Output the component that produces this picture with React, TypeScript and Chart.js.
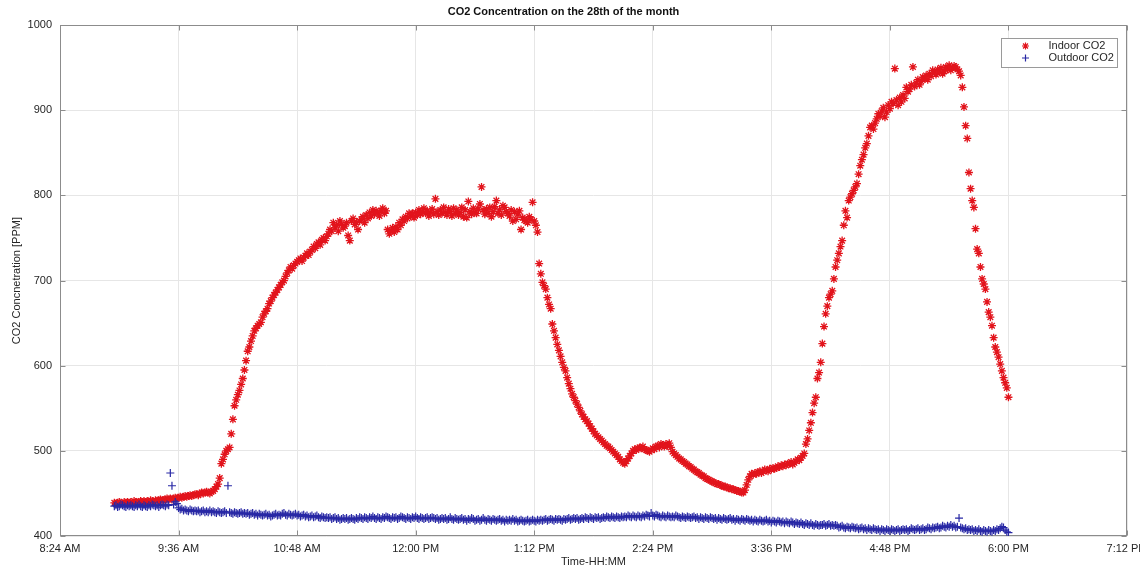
import { useEffect, useRef } from "react";
import { Chart, registerables } from "chart.js";

Chart.register(...registerables);

// Logger readings, one per minute, starting at 8:57 AM (minutes after midnight)
const FIRST_MINUTE = 537;

// Indoor CO2 [ppm]
const INDOOR_CO2 = [
  439, 438, 439, 440, 439, 438, 440, 439, 440, 439,
  440, 439, 441, 440, 439, 440, 441, 440, 441, 440,
  441, 440, 442, 441, 440, 442, 441, 442, 443, 442,
  442, 443, 444, 443, 444, 443, 444, 445, 444, 445,
  446, 445, 446, 447, 446, 447, 448, 447, 448, 449,
  449, 448, 450, 451, 450, 451, 452, 451, 450, 452,
  453, 455, 458, 461, 468, 485, 490, 496, 500, 502,
  504, 520, 537, 553, 560, 566, 571, 578, 585, 595,
  606, 617, 622, 629, 635, 641, 644, 647, 649, 651,
  657, 661, 664, 667, 673, 676, 680, 683, 686, 689,
  692, 695, 698, 700, 705, 709, 712, 716, 714, 718,
  720, 722, 724, 726, 723, 727, 729, 732, 730, 734,
  736, 740, 738, 743, 745, 742, 748, 750, 747, 752,
  755, 760, 758, 768, 762, 765, 758, 770, 766, 762,
  764, 768, 753, 747, 770, 773, 766, 768, 760, 770,
  772, 775, 768, 777, 773, 780, 776, 783, 778, 782,
  780, 776, 782, 785, 779, 782, 760, 755, 758, 762,
  757, 763, 760, 768, 765, 772, 770, 775, 773, 779,
  776, 779, 774, 780, 777, 783, 778, 781, 785, 779,
  782, 776, 780, 784, 778, 796, 781, 777, 783, 779,
  786, 780, 777, 784, 781, 776, 785, 779, 783, 777,
  780, 786, 775, 783, 774, 793, 781, 778, 785, 780,
  779, 784, 790, 810, 783, 778, 784, 779, 786, 775,
  781, 787, 794, 779, 783, 777, 788, 786, 781, 779,
  776, 783, 770, 781, 772, 778, 782, 760, 774, 771,
  770, 768, 775, 772, 792, 770, 765, 757, 720, 708,
  698, 694, 690, 680, 672, 667, 649, 641, 633, 625,
  618, 611, 604, 598, 594, 586, 579, 573, 567, 563,
  559, 555, 551, 547, 543, 540, 537, 535, 532, 529,
  526, 523, 520, 518, 516, 514, 512, 510, 508, 506,
  505, 503, 501, 499, 497, 495, 493, 490, 488, 486,
  485, 488, 491, 494, 497, 500, 502, 501, 503, 504,
  503, 505, 502, 501, 500, 499, 501, 503, 502, 505,
  506, 504, 508, 507, 505, 508, 506, 509, 504, 499,
  497, 495, 493, 491, 490, 488, 487, 485, 484, 482,
  481, 479, 478, 476, 475, 474, 472, 471, 470, 468,
  467, 466, 465, 464, 463, 462, 461, 461, 460, 459,
  458, 458, 457, 456, 456, 455, 455, 454, 453, 453,
  452, 451, 451, 454, 460, 466, 470, 473, 472, 474,
  473, 475, 476, 474, 476, 478, 477, 476, 479, 478,
  480, 479, 480, 482, 481, 483, 482, 484, 483, 485,
  485, 487, 484, 486, 488, 490, 489, 492, 494, 497,
  508, 514, 524, 533, 545, 556, 563, 585, 592, 604,
  626, 646, 661, 670, 680, 684, 688, 702, 716, 724,
  732, 740, 747, 765, 782, 774, 794, 798, 802, 806,
  810, 814, 825, 835, 842, 848, 856, 861, 870, 880,
  882, 878, 885, 890, 896, 893, 899, 903, 892, 898,
  906, 902, 910, 908, 949, 912, 906, 915, 910, 918,
  914, 927, 922, 925, 930, 951, 928, 932, 936, 930,
  934, 939, 937, 941, 936, 943, 940, 947, 944, 942,
  948, 945, 950, 943, 946, 951, 948, 953, 947, 950,
  952, 951, 948, 946, 941, 927, 904, 882, 867, 827,
  808, 794, 786, 761, 737, 732, 716, 702, 696, 690,
  675, 663, 657, 647, 633, 622, 616, 610, 602, 594,
  586, 580, 574, 563,
];

// Outdoor CO2 [ppm]
const OUTDOOR_CO2 = [
  435, 436, 434, 435, 437, 436, 435, 434, 436, 435,
  436, 435, 434, 436, 435, 437, 435, 434, 436, 435,
  434, 436, 435, 437, 436, 435, 436, 434, 436, 437,
  436, 435, 437, 436, 474, 459, 437, 440, 438, 433,
  431, 432, 430, 431, 430, 429, 431, 430, 429, 430,
  429, 430, 428, 429, 430, 428, 429, 428, 430, 428,
  429, 428, 427, 429, 428, 427, 428, 429, 427, 459,
  428, 427, 426, 428, 427, 426, 427, 428, 426, 427,
  426, 427, 425, 426, 427, 425, 426, 424, 426, 425,
  424, 425, 426, 424, 425, 423, 424, 425, 426, 424,
  425, 424, 426, 427, 425, 424, 426, 425, 424, 425,
  426, 424, 425, 423, 424, 425, 423, 424, 422, 423,
  424, 422, 423, 424, 422, 421, 423, 422, 421, 422,
  421, 422, 420, 421, 422, 420, 421, 419, 420, 421,
  420, 421, 419, 420, 421, 420, 419, 421, 420, 422,
  421, 420, 422, 421, 420, 422, 421, 423, 421, 420,
  422, 421, 420, 422, 421, 423, 422, 421, 420, 422,
  421, 422, 420, 421, 423, 422, 421, 420, 422, 421,
  420, 422, 421, 423, 421, 420, 422, 421, 420, 421,
  422, 420, 421, 422, 421, 420, 421, 419, 420, 421,
  420, 421, 419, 420, 422, 420, 419, 421, 420, 419,
  420, 421, 419, 420, 418, 420, 419, 421, 420, 418,
  419, 420, 418, 419, 421, 419, 418, 420, 419, 418,
  420, 419, 418, 419, 420, 418, 419, 417, 419, 418,
  419, 418, 420, 418, 419, 417, 418, 419, 418, 417,
  418, 419, 417, 418, 419, 418, 417, 419, 418, 419,
  418, 419, 420, 418, 419, 420, 419, 418, 420, 419,
  420, 419, 418, 420, 419, 420, 421, 419, 420, 421,
  420, 421, 419, 420, 421, 420, 422, 421, 420, 422,
  421, 420, 422, 421, 422, 420, 421, 422, 421, 423,
  422, 421, 423, 422, 421, 423, 422, 421, 423, 422,
  423, 422, 424, 423, 422, 424, 423, 422, 424, 423,
  422, 424, 423, 425, 424, 423, 427, 424, 423, 425,
  424, 423, 422, 424, 423, 422, 424, 423, 422, 423,
  422, 424, 423, 422, 421, 423, 422, 421, 423, 422,
  421, 422, 423, 421, 422, 420, 422, 421, 420, 422,
  421, 420, 422, 421, 420, 421, 419, 421, 420, 419,
  421, 420, 419, 420, 421, 419, 420, 418, 420, 419,
  418, 420, 419, 418, 420, 419, 418, 419, 417, 419,
  418, 417, 419, 418, 417, 418, 419, 417, 418, 416,
  418, 417, 416, 418, 417, 416, 417, 415, 417, 416,
  415, 417, 416, 414, 416, 415, 414, 416, 414, 413,
  415, 414, 413, 415, 413, 412, 414, 413, 412, 413,
  413, 414, 412, 413, 414, 412, 413, 412, 413, 412,
  410, 411, 412, 410, 409, 411, 410, 409, 411, 410,
  409, 410, 408, 409, 410, 408, 409, 407, 409, 408,
  407, 409, 408, 407, 408, 406, 408, 407, 406, 408,
  407, 406, 408, 407, 406, 407, 408, 406, 407, 408,
  407, 408, 406, 407, 409, 408, 407, 408, 409, 407,
  408, 409, 407, 408, 410, 409, 408, 410, 409, 410,
  411, 409, 410, 412, 411, 410, 412, 411, 413, 411,
  412, 410, 411, 421, 410, 409, 408, 409, 407, 408,
  407, 408, 406, 407, 406, 408, 406, 405, 407, 406,
  405, 407, 406, 405, 407, 406, 408, 407, 409, 411,
  410, 407, 405, 404,
];

// Time axis: 8:24 AM to 7:12 PM in minutes after midnight, 72-minute steps
const X_MIN = 504;
const X_MAX = 1152;
const X_STEP = 72;
const X_TICK_LABELS = [
  "8:24 AM", "9:36 AM", "10:48 AM", "12:00 PM", "1:12 PM",
  "2:24 PM", "3:36 PM", "4:48 PM", "6:00 PM", "7:12 PM",
];
const Y_MIN = 400;
const Y_MAX = 1000;
const Y_STEP = 100;
const Y_TICK_LABELS = ["400", "500", "600", "700", "800", "900", "1000"];

const FONT = "'Liberation Sans', Arial, Helvetica, sans-serif";
const TEXT = "#262626";
const INDOOR_COLOR = "rgb(226, 20, 28)";
const OUTDOOR_COLOR = "rgb(40, 40, 165)";

function drawMarker(ctx: CanvasRenderingContext2D, style: string, x: number, y: number, r: number) {
  ctx.beginPath();
  ctx.moveTo(x - r, y);
  ctx.lineTo(x + r, y);
  ctx.moveTo(x, y - r);
  ctx.lineTo(x, y + r);
  if (style === "star") {
    const d = r * Math.SQRT1_2;
    ctx.moveTo(x - d, y - d);
    ctx.lineTo(x + d, y + d);
    ctx.moveTo(x - d, y + d);
    ctx.lineTo(x + d, y - d);
  }
  ctx.stroke();
}

// Box around the axes with short inward tick marks
const axesFrame = {
  id: "axesFrame",
  beforeDatasetsDraw(chart: any) {
    const { ctx, chartArea, scales } = chart;
    const l = Math.round(chartArea.left) + 0.5;
    const r = Math.round(chartArea.right) - 0.5;
    const t = Math.round(chartArea.top) + 0.5;
    const b = Math.round(chartArea.bottom) - 0.5;
    ctx.save();
    ctx.strokeStyle = "#8c8c8c";
    ctx.lineWidth = 1;
    ctx.strokeRect(l, t, r - l, b - t);
    ctx.beginPath();
    scales.x.ticks.forEach((tk: any) => {
      const px = Math.round(scales.x.getPixelForValue(tk.value)) + 0.5;
      ctx.moveTo(px, b);
      ctx.lineTo(px, b - 5);
      ctx.moveTo(px, t);
      ctx.lineTo(px, t + 5);
    });
    scales.y.ticks.forEach((tk: any) => {
      const py = Math.round(scales.y.getPixelForValue(tk.value)) + 0.5;
      ctx.moveTo(l, py);
      ctx.lineTo(l + 5, py);
      ctx.moveTo(r, py);
      ctx.lineTo(r - 5, py);
    });
    ctx.stroke();
    ctx.restore();
  },
};

// Boxed legend in the upper right corner of the axes
const cornerLegend = {
  id: "cornerLegend",
  afterDraw(chart: any) {
    const { ctx, chartArea } = chart;
    const w = 116;
    const h = 29;
    const x0 = Math.round(chartArea.right - 10 - w) + 0.5;
    const y0 = Math.round(chartArea.top + 13) + 0.5;
    ctx.save();
    ctx.fillStyle = "#ffffff";
    ctx.fillRect(x0, y0, w, h);
    ctx.strokeStyle = "#9a9a9a";
    ctx.lineWidth = 1;
    ctx.strokeRect(x0, y0, w, h);
    chart.data.datasets.forEach((ds: any, i: number) => {
      const cy = y0 + 7.5 + i * 12;
      ctx.strokeStyle = ds.borderColor;
      ctx.lineWidth = 1.2;
      drawMarker(ctx, ds.pointStyle, x0 + 24, cy, 3.5);
      ctx.fillStyle = TEXT;
      ctx.font = `11px ${FONT}`;
      ctx.textAlign = "left";
      ctx.textBaseline = "middle";
      ctx.fillText(ds.label, x0 + 47, cy);
    });
    ctx.restore();
  },
};

export default function App() {
  const canvasRef = useRef<HTMLCanvasElement | null>(null);

  useEffect(() => {
    const canvas = canvasRef.current;
    if (!canvas) return;

    const indoorPoints = INDOOR_CO2.map((v, i) => ({ x: FIRST_MINUTE + i, y: v }));
    const outdoorPoints = OUTDOOR_CO2.map((v, i) => ({ x: FIRST_MINUTE + i, y: v }));

    const chart = new Chart(canvas, {
      type: "scatter",
      data: {
        datasets: [
          {
            label: "Indoor CO2",
            data: indoorPoints,
            pointStyle: "star",
            pointRadius: 4,
            borderColor: INDOOR_COLOR,
            backgroundColor: INDOOR_COLOR,
            pointBorderWidth: 1.3,
            order: 1,
          },
          {
            label: "Outdoor CO2",
            data: outdoorPoints,
            pointStyle: "cross",
            pointRadius: 4,
            borderColor: OUTDOOR_COLOR,
            backgroundColor: OUTDOOR_COLOR,
            pointBorderWidth: 1.2,
            order: 0,
          },
        ],
      },
      options: {
        responsive: false,
        animation: false,
        devicePixelRatio: 1,
        events: [],
        layout: { padding: { left: 0, right: 13, top: 0, bottom: 0 } },
        plugins: {
          legend: { display: false },
          tooltip: { enabled: false },
          title: {
            display: true,
            text: "CO2 Concentration on the 28th of the month",
            color: "#111",
            font: { family: FONT, size: 11, weight: "bold" },
            padding: { top: 5, bottom: 7 },
          },
        },
        scales: {
          x: {
            type: "linear",
            min: X_MIN,
            max: X_MAX,
            grid: { color: "#e6e6e6", drawTicks: false },
            border: { display: false },
            ticks: {
              stepSize: X_STEP,
              autoSkip: false,
              maxRotation: 0,
              minRotation: 0,
              padding: 6,
              color: TEXT,
              font: { family: FONT, size: 11 },
              callback: (_v: any, i: number) => X_TICK_LABELS[i],
            },
            title: {
              display: true,
              text: "Time-HH:MM",
              color: TEXT,
              font: { family: FONT, size: 11 },
              padding: { top: 0, bottom: 1 },
            },
            afterFit: (scale: any) => {
              scale.height = 34;
              scale.paddingLeft = 0;
              scale.paddingRight = 0;
            },
          },
          y: {
            type: "linear",
            min: Y_MIN,
            max: Y_MAX,
            grid: { color: "#e6e6e6", drawTicks: false },
            border: { display: false },
            ticks: {
              stepSize: Y_STEP,
              padding: 8,
              color: TEXT,
              font: { family: FONT, size: 11 },
              callback: (_v: any, i: number) => Y_TICK_LABELS[i],
            },
            title: {
              display: true,
              text: "CO2 Concnetration [PPM]",
              color: TEXT,
              font: { family: FONT, size: 11 },
              padding: { top: 10, bottom: 0 },
            },
            afterFit: (scale: any) => {
              scale.width = 60;
              scale.paddingTop = 0;
              scale.paddingBottom = 0;
            },
          },
        },
      },
      plugins: [axesFrame, cornerLegend],
    });

    return () => chart.destroy();
  }, []);

  return (
    <div style={{ position: "absolute", left: 0, top: 0, width: 1140, height: 570, background: "#fff" }}>
      <canvas ref={canvasRef} width={1140} height={570} style={{ display: "block" }} />
    </div>
  );
}
